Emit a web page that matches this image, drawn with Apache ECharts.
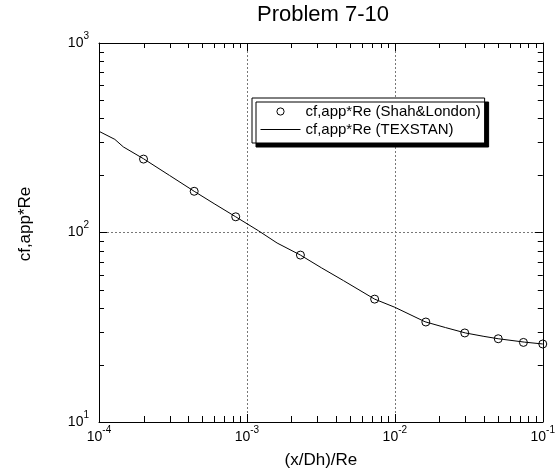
<!DOCTYPE html>
<html>
<head>
<meta charset="utf-8">
<script src="https://cdn.jsdelivr.net/npm/echarts@6/dist/echarts.min.js"></script>
<style>
  html, body { margin: 0; padding: 0; background: #fff; }
  #chart { width: 558px; height: 474px; }
</style>
</head>
<body>
<div id="chart"></div>
<script>
// Texts
const titleText = 'Problem 7-10';
const xAxisName = '(x/Dh)/Re';
const yAxisName = 'cf,app*Re';
const shahName = 'cf,app*Re (Shah&London)';
const texstanName = 'cf,app*Re (TEXSTAN)';

// Shah & London reference values (circles)
const shahX = [2e-4, 4.4e-4, 8.4e-4, 2.3e-3, 7.3e-3, 1.62e-2, 2.97e-2, 5e-2, 7.4e-2, 1e-1];
const shahY = [244, 165, 121, 76, 44.5, 33.7, 29.5, 27.5, 26.3, 25.8];

// TEXSTAN solution (solid line)
const texX = [1e-4, 1.28e-4, 1.46e-4, 2e-4, 3e-4, 4.4e-4, 6e-4, 8.4e-4, 1.2e-3, 1.6e-3, 2.3e-3,
              3.2e-3, 4.5e-3, 7.3e-3, 1e-2, 1.6e-2, 2.2e-2, 3e-2, 4e-2, 5e-2, 7.5e-2, 1e-1];
const texY = [342, 310, 283, 245, 200, 165, 142, 121, 102, 88, 76,
              65, 55.7, 44.5, 40.3, 33.8, 31.5, 29.5, 28.3, 27.5, 26.4, 25.8];

// Axis ranges and tick positions
const xMin = 1e-4, xMax = 1e-1;
const yMin = 10, yMax = 1000;
const xDecades = [1e-4, 1e-3, 1e-2];
const yDecades = [10, 100];
const minorSteps = [2, 3, 4, 5, 6, 7, 8, 9];

const xMinor = [];
xDecades.forEach(d => minorSteps.forEach(m => xMinor.push(d * m)));
const yMinor = [];
yDecades.forEach(d => minorSteps.forEach(m => yMinor.push(d * m)));

const FONT = "'Liberation Sans', Arial, sans-serif";

function powLabel(v) {
  const e = Math.round(Math.log10(v));
  return '{b|10}{s|' + e + '}';
}
const richPow = {
  b: { fontFamily: FONT, fontSize: 14, color: '#000', verticalAlign: 'bottom', lineHeight: 14 },
  s: { fontFamily: FONT, fontSize: 10, color: '#000', verticalAlign: 'bottom', lineHeight: 10, padding: [0, 0, 9, 0] }
};

const crisp = v => Math.round(v) + 0.5;

const tickStyle = { stroke: '#000', lineWidth: 1 };

const chart = echarts.init(document.getElementById('chart'), null, { renderer: 'canvas' });

chart.setOption({
  animation: false,
  backgroundColor: '#fff',
  title: {
    text: titleText,
    left: 323,
    top: 4,
    padding: 0,
    textAlign: 'center',
    textStyle: { fontFamily: FONT, fontSize: 22, fontWeight: 'normal', color: '#000', lineHeight: 22 }
  },
  grid: { left: 99, right: 11, top: 43, bottom: 52, show: false },
  legend: {
    orient: 'vertical',
    left: 252,
    top: 98,
    data: [
      { name: shahName, lineStyle: { opacity: 0, width: 0 } },
      { name: texstanName, lineStyle: { width: 1, color: '#000' }, itemStyle: { opacity: 0, color: 'rgba(0,0,0,0)', borderWidth: 0 } }
    ],
    itemWidth: 40,
    itemHeight: 9,
    itemGap: 3,
    padding: [6, 4, 6, 8],
    backgroundColor: '#fff',
    borderColor: '#000',
    borderWidth: 1,
    borderRadius: 0,
    shadowColor: '#000',
    shadowOffsetX: 4,
    shadowOffsetY: 4,
    shadowBlur: 0,
    selectedMode: false,
    itemStyle: { borderWidth: 1 },
    textStyle: { fontFamily: FONT, fontSize: 15, color: '#000', lineHeight: 15 }
  },
  xAxis: [
    {
      type: 'log', logBase: 10, min: xMin, max: xMax, position: 'bottom',
      name: xAxisName, nameLocation: 'middle', nameGap: 30,
      nameTextStyle: { fontFamily: FONT, fontSize: 17, color: '#000', lineHeight: 17 },
      axisLine: { show: true, onZero: false, lineStyle: { color: '#000', width: 1 } },
      axisTick: { show: true, inside: true, length: 8, lineStyle: { color: '#000' } },
      axisLabel: { margin: 8, formatter: powLabel, rich: richPow },
      splitLine: { show: true, lineStyle: { color: '#777', type: [2, 2], width: 1 } },
      minorTick: { show: false },
      minorSplitLine: { show: false }
    },
    {
      type: 'log', logBase: 10, min: xMin, max: xMax, position: 'top',
      axisLine: { show: true, onZero: false, lineStyle: { color: '#000', width: 1 } },
      axisTick: { show: true, inside: true, length: 8, lineStyle: { color: '#000' } },
      axisLabel: { show: false },
      splitLine: { show: false }
    }
  ],
  yAxis: [
    {
      type: 'log', logBase: 10, min: yMin, max: yMax, position: 'left',
      name: yAxisName, nameLocation: 'middle', nameGap: 65, nameRotate: 90,
      nameTextStyle: { fontFamily: FONT, fontSize: 17, color: '#000', lineHeight: 17, padding: [0, 0, 0, 17] },
      axisLine: { show: true, onZero: false, lineStyle: { color: '#000', width: 1 } },
      axisTick: { show: true, inside: true, length: 8, lineStyle: { color: '#000' } },
      axisLabel: { margin: 10, formatter: powLabel, rich: richPow },
      splitLine: { show: true, lineStyle: { color: '#777', type: [2, 2], width: 1 } }
    },
    {
      type: 'log', logBase: 10, min: yMin, max: yMax, position: 'right',
      axisLine: { show: true, onZero: false, lineStyle: { color: '#000', width: 1 } },
      axisTick: { show: true, inside: true, length: 8, lineStyle: { color: '#000' } },
      axisLabel: { show: false },
      splitLine: { show: false }
    }
  ],
  series: [
    {
      // minor ticks along bottom and top edges
      type: 'custom', silent: true, xAxisIndex: 0, yAxisIndex: 0, z: 5,
      data: xMinor.map(v => [v, yMin]),
      encode: { x: 0, y: 1 },
      renderItem(params, api) {
        const v = api.value(0);
        const b = api.coord([v, yMin]);
        const t = api.coord([v, yMax]);
        const x = crisp(b[0]);
        return {
          type: 'group',
          children: [
            { type: 'line', shape: { x1: x, y1: b[1], x2: x, y2: b[1] - 6 }, style: tickStyle },
            { type: 'line', shape: { x1: x, y1: t[1], x2: x, y2: t[1] + 5 }, style: tickStyle }
          ]
        };
      }
    },
    {
      // minor ticks along left and right edges
      type: 'custom', silent: true, xAxisIndex: 0, yAxisIndex: 0, z: 5,
      data: yMinor.map(v => [xMin, v]),
      encode: { x: 0, y: 1 },
      renderItem(params, api) {
        const v = api.value(1);
        const l = api.coord([xMin, v]);
        const r = api.coord([xMax, v]);
        const y = crisp(l[1]);
        return {
          type: 'group',
          children: [
            { type: 'line', shape: { x1: l[0], y1: y, x2: l[0] + 5, y2: y }, style: tickStyle },
            { type: 'line', shape: { x1: r[0], y1: y, x2: r[0] - 5, y2: y }, style: tickStyle }
          ]
        };
      }
    },
    {
      name: texstanName,
      type: 'line',
      xAxisIndex: 0, yAxisIndex: 0,
      data: texX.map((x, i) => [x, texY[i]]),
      symbol: 'none',
      smooth: false,
      lineStyle: { color: '#000', width: 1 },
      itemStyle: { color: '#000' },
      z: 3
    },
    {
      name: shahName,
      type: 'line',
      xAxisIndex: 0, yAxisIndex: 0,
      data: shahX.map((x, i) => [x, shahY[i]]),
      symbol: 'circle',
      symbolSize: 8,
      showSymbol: true,
      lineStyle: { width: 0, opacity: 0 },
      itemStyle: { color: 'rgba(0,0,0,0)', borderColor: '#000', borderWidth: 1 },
      z: 4
    }
  ]
});
</script>
</body>
</html>
